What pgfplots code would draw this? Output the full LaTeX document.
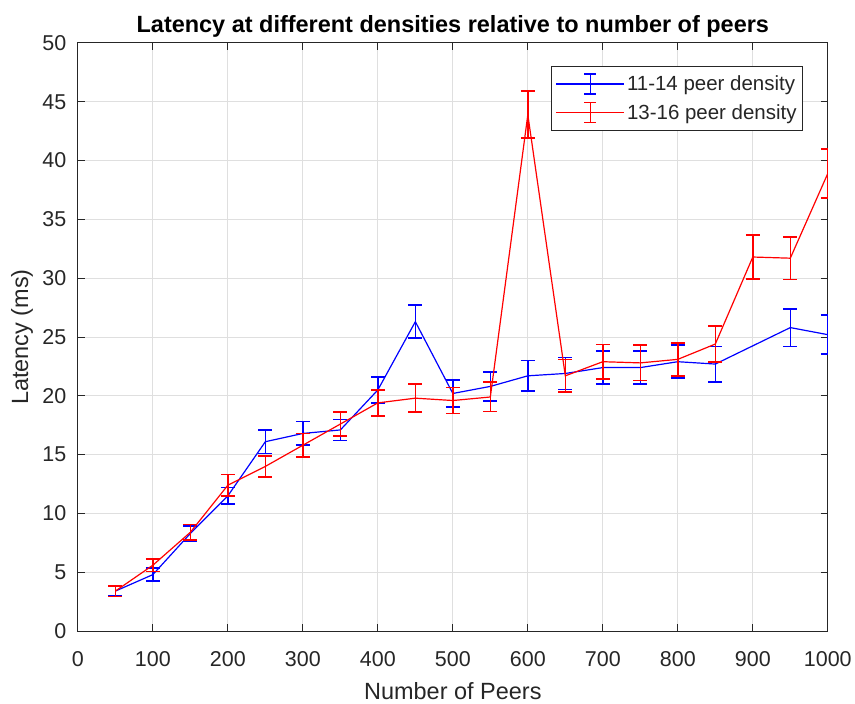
\documentclass[border=0pt]{standalone}
\usepackage{pgfplots}
\usepackage{pgfplotstable}
\pgfplotsset{compat=1.18}
\usepackage{fontspec}
\setmainfont{Liberation Sans}
\definecolor{axgray}{RGB}{38,38,38}
\definecolor{gridgray}{RGB}{223,223,223}
\definecolor{serblue}{RGB}{0,0,255}
\definecolor{serred}{RGB}{255,0,0}

% mean latency (ms) and half-width of the error bar
\pgfplotstableread{
n lat err
50 3.4 0.4
100 4.8 0.55
150 8.3 0.65
200 11.5 0.7
250 16.1 1.0
300 16.8 1.0
350 17.1 0.9
400 20.5 1.1
450 26.3 1.4
500 20.2 1.15
550 20.8 1.25
600 21.7 1.3
650 21.9 1.35
700 22.4 1.4
750 22.4 1.4
800 22.9 1.4
850 22.7 1.5
950 25.8 1.6
1000 25.2 1.65
}\lowdens
\pgfplotstableread{
n lat err
50 3.4 0.45
100 5.6 0.55
150 8.4 0.65
200 12.4 0.9
250 14.0 0.9
300 15.8 1.0
350 17.6 1.0
400 19.4 1.1
450 19.8 1.2
500 19.6 1.1
550 19.9 1.25
600 43.9 2.0
650 21.7 1.4
700 22.9 1.45
750 22.8 1.5
800 23.1 1.4
850 24.4 1.55
900 31.8 1.85
950 31.7 1.8
1000 38.9 2.1
}\highdens

\newlength{\lw}\setlength{\lw}{1.2pt}
\newlength{\bw}\setlength{\bw}{1.6pt}

% line with a capped error bar, as used in the legend
\newcommand{\errlegend}[1]{%
  \draw[draw=#1, line width=\bw] (0pt,0pt) -- (68pt,0pt);
  \draw[draw=#1, line width=\bw] (34pt,-10pt) -- (34pt,10pt);
  \draw[draw=#1, line width=\bw] (28pt,-10pt) -- (40pt,-10pt);
  \draw[draw=#1, line width=\bw] (28pt,10pt) -- (40pt,10pt);}

% error bar drawn as a plain path with a horizontal cap at its end
\pgfplotsset{
  capped bars/.style={
    error bars/.cd,
      y dir=both, y explicit,
      error mark=none,
      draw error bar/.code 2 args={%
        \draw[draw=#1, line width=\bw] ##1 -- ##2;
        \draw[draw=#1, line width=\bw] ##2 ++(-7pt,0pt) -- ++(14pt,0pt);}
  }
}

\begin{document}
\begin{tikzpicture}
\begin{axis}[
  name=ax,
  scale only axis,
  width=751pt, height=589pt,
  xmin=0, xmax=1000, ymin=0, ymax=50,
  xtick={0,100,...,1000}, ytick={0,5,...,50},
  tick align=inside,
  major tick length=7pt,
  axis line style={axgray, line width=0.9pt},
  tick style={axgray, line width=0.9pt},
  grid=major,
  grid style={gridgray, line width=0.9pt},
  ticklabel style={font=\fontsize{21.5}{24}\selectfont, text=axgray},
  xticklabel style={yshift=-17pt},
  yticklabel style={xshift=-8pt},
  /pgf/number format/assume math mode=true,
  /pgf/number format/set thousands separator={},
  xlabel={Number of Peers},
  ylabel={Latency (ms)},
  label style={font=\fontsize{23.5}{26}\selectfont, text=axgray},
  xlabel style={at={(axis description cs:0.5,0)}, anchor=base, yshift=-69pt},
  ylabel style={at={(axis description cs:0,0.5)}, anchor=center, yshift=56pt},
  title={\textbf{Latency at different densities relative to number of peers}},
  title style={font=\fontsize{23.5}{26}\selectfont, at={(axis description cs:0.5,1)},
    anchor=base, yshift=4pt},
  legend style={at={(0.967,0.961)}, anchor=north east, draw=axgray, line width=0.9pt,
    font=\fontsize{20.5}{23}\selectfont, text=axgray, inner xsep=4pt, inner ysep=7pt,
    row sep=7pt, cells={anchor=west},
    /tikz/every even column/.append style={column sep=4pt}},
]
% 11-14 peer density
\addplot[color=serblue, line width=\lw, mark=none,
  legend image code/.code={\errlegend{serblue}},
  capped bars=serblue]
  table[x=n, y=lat, y error=err] {\lowdens};
\addlegendentry{11-14 peer density}
% 13-16 peer density
\addplot[color=serred, line width=\lw, mark=none,
  legend image code/.code={\errlegend{serred}},
  capped bars=serred]
  table[x=n, y=lat, y error=err] {\highdens};
\addlegendentry{13-16 peer density}
\end{axis}
% white margin around the figure
\path ([xshift=-78pt,yshift=-72pt]ax.south west) rectangle ([xshift=26pt,yshift=43pt]ax.north east);
\end{tikzpicture}
\end{document}
